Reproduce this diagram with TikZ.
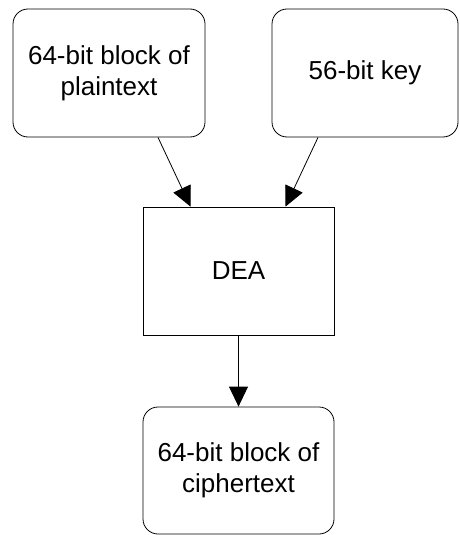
\documentclass[tikz,border=0pt]{standalone}
\usepackage{fontspec}
\setmainfont{Liberation Sans}
\usepackage{tikz}
\usetikzlibrary{calc}
\usetikzlibrary{arrows.meta}
\usepackage{xcolor}

\begin{document}
\begin{tikzpicture}[x=1pt,y=-1pt,
  box/.style={draw,line width=0.8pt,minimum height=128pt,align=center,
    font=\fontsize{26}{31}\selectfont},
  roundbox/.style={box,rounded corners=15pt},
  arr/.style={line width=0.8pt,-{Triangle[length=20pt,width=19pt]}}]
  \useasboundingbox (0,0) rectangle (459,535);
  \coordinate (pPlain) at (109,73);
  \coordinate (pKey) at (365,73);
  \coordinate (pDea) at (238.5,271);
  \coordinate (pCipher) at (238.5,470.5);
  \node[roundbox,minimum width=192pt] (plain) at (pPlain) {64-bit block of\\plaintext};
  \node[roundbox,minimum width=186pt] (key) at (pKey) {56-bit key};
  \node[box,minimum width=191pt] (dea) at (pDea) {DEA};
  \node[roundbox,minimum width=191pt,minimum height=127pt] (cipher) at (pCipher) {64-bit block of\\ciphertext};
  \draw[arr] ([xshift=49pt]plain.south) -- ([xshift=-48pt]dea.north);
  \draw[arr] ([xshift=-47pt]key.south) -- ([xshift=47pt]dea.north);
  \draw[arr] (dea.south) -- (cipher.north);
\end{tikzpicture}
\end{document}
